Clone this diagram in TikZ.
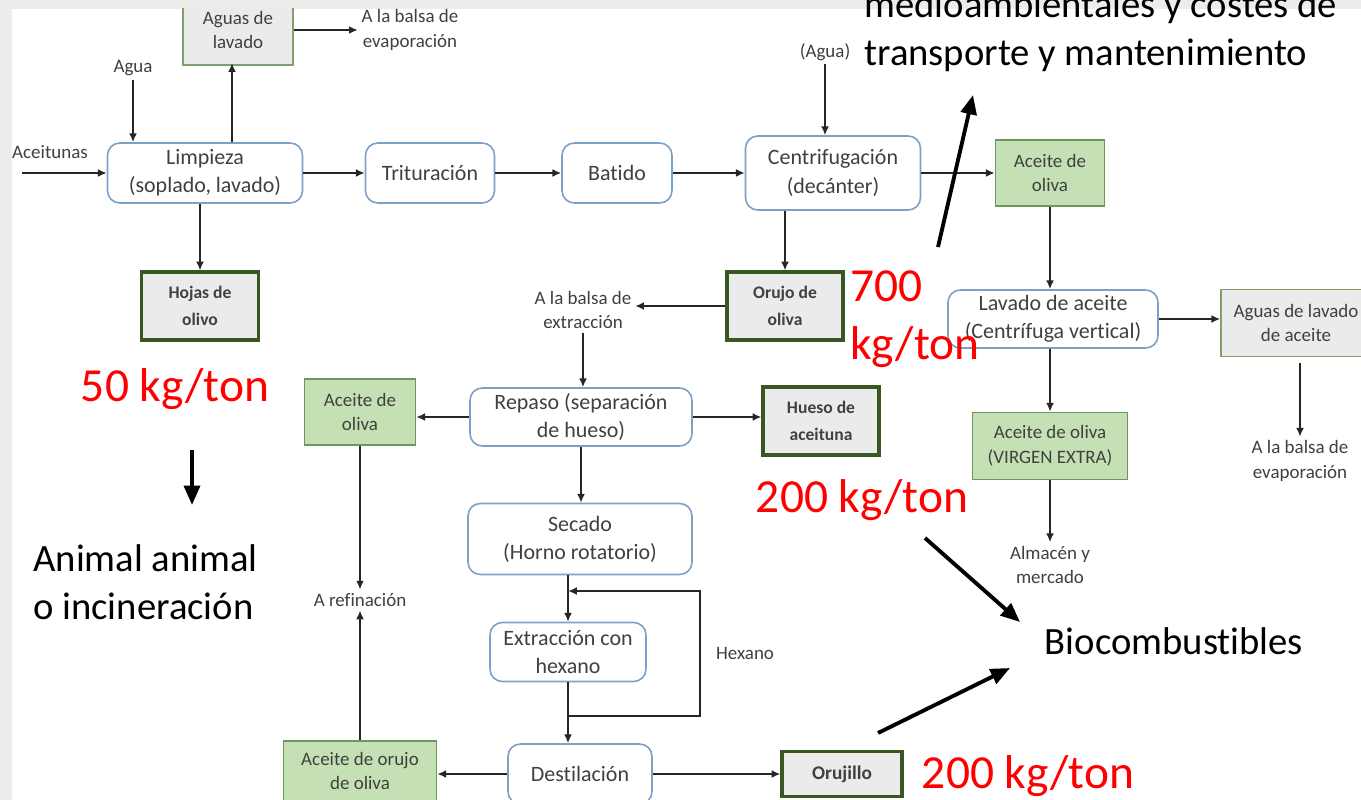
\documentclass[tikz,border=0pt]{standalone}
\usepackage{fontspec}
\setmainfont{Carlito}[Ligatures={NoCommon,NoContextual}]
\usetikzlibrary{arrows.meta}

\definecolor{slidegray}{RGB}{236,236,236}
\definecolor{procblue}{RGB}{125,160,200}
\definecolor{oilgreen}{RGB}{197,224,180}
\definecolor{oilline}{RGB}{110,150,90}
\definecolor{wastegray}{RGB}{235,235,235}
\definecolor{darkgreen}{RGB}{56,87,35}
\definecolor{washline}{RGB}{130,160,110}
\definecolor{txtgray}{RGB}{64,64,64}

\newcommand\boxfont{\fontsize{12.5}{16}\selectfont}
\newcommand\notefont{\fontsize{10.8}{14}\selectfont}
\newcommand\wastefont{\fontsize{10}{15}\bfseries\selectfont}
\newcommand\anotfont{\fontsize{22}{27}\selectfont}
\newcommand\kgfont{\fontsize{27}{33}\selectfont}

\tikzset{
  proc/.style={draw=procblue, line width=0.9pt, rounded corners=7pt, fill=white,
    align=center, inner sep=2pt, font=\boxfont, text=txtgray},
  oil/.style={draw=oilline, line width=0.9pt, fill=oilgreen, align=center,
    inner sep=2pt, font=\notefont, text=txtgray},
  waste/.style={draw=darkgreen, line width=1.8pt, fill=wastegray, align=center,
    inner sep=2pt, font=\wastefont, text=txtgray},
  wash/.style={draw=washline, line width=0.9pt, fill=wastegray, align=center,
    inner sep=2pt, font=\notefont, text=txtgray},
  note/.style={align=center, inner sep=2pt, font=\notefont, text=txtgray},
  arr/.style={-{Latex[length=5pt,width=4.5pt]}, line width=1.1pt, draw=black!85},
  big/.style={-{Triangle[length=11pt,width=9pt]}, line width=2.2pt},
  kg/.style={text=red, font=\kgfont, inner sep=0pt},
  anot/.style={font=\anotfont, inner sep=0pt}
}

\begin{document}
\begin{tikzpicture}[x=0.02cm, y=-0.02cm]
  \useasboundingbox (0,0) rectangle (1361,800);
  \fill[slidegray] (0,0) rectangle (1361,800);
  \fill[white] (12,9) rectangle (1361,800);

  \begin{scope}
    \clip (12,9) rectangle (1361,800);

    % linea principal
    \node[proc, minimum width=3.9cm, minimum height=1.2cm] (limp) at (205,173) {Limpieza\\(soplado, lavado)};
    \node[proc, minimum width=2.58cm, minimum height=1.2cm] (trit) at (430,173) {Trituración};
    \node[proc, minimum width=2.2cm, minimum height=1.2cm] (bat) at (617,173) {Batido};
    \node[proc, minimum width=3.5cm, minimum height=1.48cm] (cent) at (833,173) {Centrifugación\\(decánter)};
    \node[oil, minimum width=2.18cm, minimum height=1.32cm] (aceite) at (1050,173) {Aceite de\\oliva};

    \node[wash, minimum width=2.2cm, minimum height=1.4cm] (lav) at (238,30) {Aguas de\\lavado};
    \node[note] (balsaev) at (410,30) {A la balsa de\\evaporación};
    \node[note] (agua) at (133,68) {Agua};
    \node[note] (aceitunas) at (50,152) {Aceitunas};
    \coordinate (entrada) at (22,173);
    \node[note] (aguad) at (825,52) {(Agua)};
    \node[waste, minimum width=2.34cm, minimum height=1.36cm] (hojas) at (200,306) {Hojas de\\olivo};
    \node[waste, minimum width=2.32cm, minimum height=1.36cm] (orujo) at (785,306) {Orujo de\\oliva};

    % aceite de oliva
    \node[proc, minimum width=4.2cm, minimum height=1.16cm] (lavac) at (1053,319) {Lavado de aceite\\(Centrífuga vertical)};
    \node[wash, minimum width=3.0cm, minimum height=1.34cm] (aguasac) at (1296,323) {Aguas de lavado\\de aceite};
    \node[note] (balsaev2) at (1300,461) {A la balsa de\\evaporación};
    \node[oil, minimum width=3.1cm, minimum height=1.34cm] (virgen) at (1050,446) {Aceite de oliva\\(VIRGEN EXTRA)};
    \node[note] (almacen) at (1050,565) {Almacén y\\mercado};

    % orujo
    \node[note] (balsaex) at (583,310) {A la balsa de\\extracción};
    \node[proc, minimum width=4.44cm, minimum height=1.16cm] (repaso) at (581,417) {Repaso (separación\\de hueso)};
    \node[waste, minimum width=2.32cm, minimum height=1.36cm] (hueso) at (821,421) {Hueso de\\aceituna};
    \node[oil, minimum width=2.22cm, minimum height=1.32cm] (aceite2) at (360,412) {Aceite de\\oliva};
    \node[note] (refin) at (360,600) {A refinación};
    \node[proc, minimum width=4.48cm, minimum height=1.42cm] (secado) at (580,539) {Secado\\(Horno rotatorio)};
    \node[proc, minimum width=3.12cm, minimum height=1.18cm] (extr) at (568,652) {Extracción con\\hexano};
    \node[note] (hexano) at (745,653) {Hexano};
    \node[proc, minimum width=2.88cm, minimum height=1.2cm] (dest) at (580,774) {Destilación};
    \node[oil, minimum width=3.06cm, minimum height=1.2cm] (orujoac) at (360,771) {Aceite de orujo\\de oliva};
    \node[waste, minimum width=2.4cm, minimum height=0.9cm, font=\fontsize{11}{13}\bfseries\selectfont] (orujillo) at (842,774) {Orujillo};

    \draw[arr] (entrada) -- (limp.west);
    \draw[arr] (agua.south) -- (agua.south |- limp.north);
    \draw[arr] (limp.north -| lav.south) ++(-6,0) -- ++(0,-79);
    \draw[arr] (lav.east |- balsaev) -- (balsaev.west);
    \draw[arr] (hojas.north |- limp.south) -- (hojas.north);
    \draw[arr] (limp) -- (trit);
    \draw[arr] (trit) -- (bat);
    \draw[arr] (bat) -- (cent);
    \draw[arr] (aguad.south) -- (aguad.south |- cent.north);
    \draw[arr] (cent) -- (aceite);
    \draw[arr] (orujo.north |- cent.south) -- (orujo.north);

    \draw[arr] (aceite.south) -- (aceite.south |- lavac.north);
    \draw[arr] (lavac.east) -- (lavac.east -| aguasac.west);
    \draw[arr] (balsaev2.north |- aguasac.south) ++(0,6) -- (balsaev2.north);
    \draw[arr] (virgen.north |- lavac.south) -- (virgen.north);
    \draw[arr] (virgen.south) -- (almacen.north);

    \draw[arr] (orujo.west) -- (orujo.west -| balsaex.east);
    \draw[arr] (balsaex.south) -- (balsaex.south |- repaso.north);
    \draw[arr] (repaso.east) -- (repaso.east -| hueso.west);
    \draw[arr] (repaso.west) -- (repaso.west -| aceite2.east);
    \draw[arr] (aceite2.south) -- (refin.north);
    \draw[arr] (repaso.south) -- (repaso.south |- secado.north);
    \draw[arr] (extr.north |- secado.south) -- (extr.north);
    \draw[arr] (extr.south) -- (extr.south |- dest.north);
    \coordinate (hexa) at (700,716);
    \coordinate (hexb) at (700,591);
    \draw[arr] (extr.south |- hexa) -- (hexa) -- (hexb) -- (extr.north |- hexb);
    \draw[arr] (dest.west) -- (dest.west -| orujoac.east);
    \draw[arr] (orujoac.north) -- (refin.south);
    \draw[arr] (dest.east) -- (dest.east -| orujillo.west);
  \end{scope}

  % anotaciones
  \node[kg] (kg50) at (175,389) {50 kg/ton};
  \node[kg, align=left, anchor=west] (kg700) at (850,319) {700\\kg/ton};
  \node[kg] (kg200a) at (862,500) {200 kg/ton};
  \node[kg] (kg200b) at (1028,776) {200 kg/ton};
  \node[anot, align=left, anchor=west] (animal) at (33,582) {Animal animal\\o incineración};
  \node[anot] (bio) at (1174,641) {Biocombustibles};
  \node[anot, align=left, anchor=west] (costes) at (864,31) {medioambientales y costes de\\transporte y mantenimiento};

  \coordinate (p1) at (192,450);
  \coordinate (p2) at (192,505);
  \coordinate (p3) at (938,247);
  \coordinate (p4) at (973,95);
  \coordinate (p5) at (925,538);
  \coordinate (p6) at (1020,622);
  \coordinate (p7) at (878,733);
  \coordinate (p8) at (1010,668);
  \draw[big] (p1) -- (p2);
  \draw[big] (p3) -- (p4);
  \draw[big] (p5) -- (p6);
  \draw[big] (p7) -- (p8);
\end{tikzpicture}
\end{document}
